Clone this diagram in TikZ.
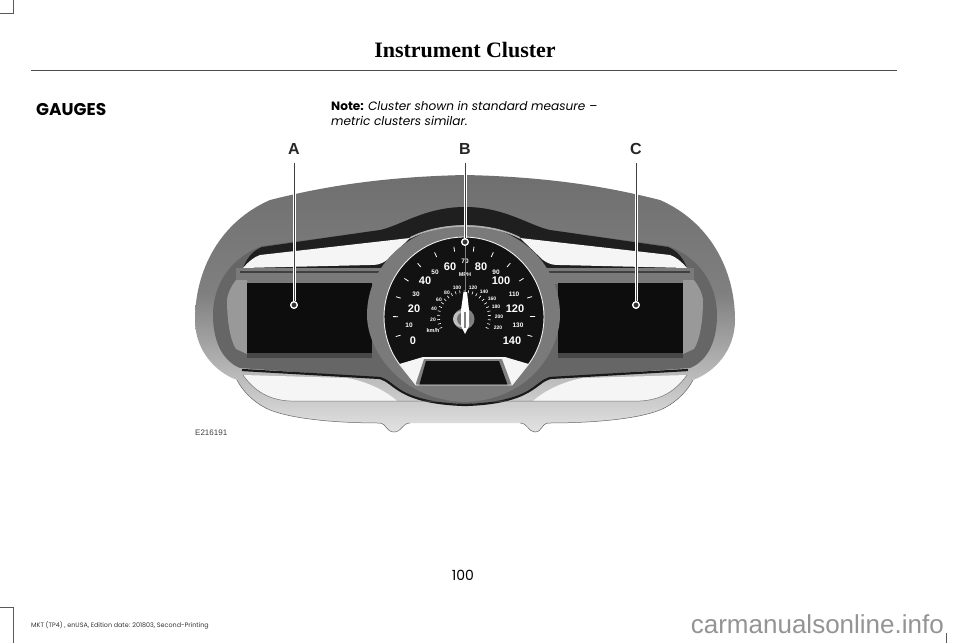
\documentclass[tikz,border=0pt]{standalone}
\usepackage{fontspec}
\setmainfont{Poppins}
\newfontfamily\headfont{Liberation Serif}
\newfontfamily\liberation{Liberation Sans}
\usetikzlibrary{calc}
\pgfdeclareverticalshading{bezelshade}{100bp}{
 color(0bp)=(black!6); color(12bp)=(white); color(24bp)=(black!10); color(38bp)=(black!30);
 color(52bp)=(black!50); color(88bp)=(black!60); color(100bp)=(black!42)}
\tikzset{
 x=1pt,y=-1pt,
 gnum/.style={white,font=\liberation\bfseries\fontsize{#1}{#1}\selectfont,inner sep=0pt},
 calloutlabel/.style={font=\liberation\bfseries\fontsize{16}{16}\selectfont,inner sep=0pt,text=black!85},
 bodytext/.style={anchor=base west,inner sep=0pt,font=\fontsize{12.1}{14}\selectfont},
 halo/.style={white,line width=3pt},
 core/.style={black!75,line width=1pt},
 dot/.style={circle,draw=white,line width=1.2pt,fill=black!80,minimum size=6.5pt,inner sep=0pt},
 dialtick/.style={white,line width=0.8pt},
 crop/.style={black!65,line width=0.5pt}
}
\begin{document}
\begin{tikzpicture}
\useasboundingbox (0,0) rectangle (960,643);
\fill[white] (0,0) rectangle (960,643);
% page furniture
\draw[crop] (0,13) -- (13,13) -- (13,0);
\draw[crop] (0,607) -- (13,607) -- (13,643);
\draw[crop] (946,633) -- (946,643);
\draw[black!70,line width=0.9pt] (31,70) -- (897,70);
\node[anchor=base,inner sep=0pt,font=\headfont\bfseries\fontsize{22}{24}\selectfont] (title) at (465,57) {Instrument Cluster};
\node[anchor=base west,inner sep=0pt,font=\bfseries\fontsize{17}{19}\selectfont] (gaugestxt) at (36,115) {GAUGES};
\node[bodytext] (note1) at (331,110.5) {\textbf{Note:} \textit{Cluster shown in standard measure –}};
\node[bodytext] (note2) at (331,125.5) {\textit{metric clusters similar.}};
\node[anchor=base,inner sep=0pt,font=\fontsize{14}{16}\selectfont] (pg) at (463,580) {100};
\node[anchor=base west,inner sep=0pt,text=black!80,font=\fontsize{6.4}{8}\selectfont] (foot) at (31,627.5) {MKT (TP4) , enUSA, Edition date: 201803, Second-Printing};
\node[anchor=base west,inner sep=0pt,text=black!75,font=\liberation\fontsize{8}{9}\selectfont] (code) at (195,435) {E216191};
% outer bezel
\path[shading=bezelshade,shading angle=0]
 (465,175) .. controls (560,177) and (620,190) .. (660,200)
 .. controls (710,222) and (735,270) .. (735,320)
 .. controls (735,350) and (715,372) .. (693,380)
 .. controls (685,395) and (672,405) .. (660,410)
 .. controls (640,418) and (600,423) .. (548,423)
 .. controls (542,423) and (542,432) .. (535,432)
 .. controls (528,432) and (528,423) .. (520,423)
 -- (410,423)
 .. controls (402,423) and (402,432) .. (394,432)
 .. controls (386,432) and (386,423) .. (380,423)
 .. controls (330,423) and (290,418) .. (270,410)
 .. controls (258,405) and (245,395) .. (237,380)
 .. controls (215,372) and (195,350) .. (195,320)
 .. controls (195,270) and (220,222) .. (270,200)
 .. controls (310,190) and (370,177) .. (465,175) -- cycle;
\draw[black!60,line width=0.5pt]
 (693,380) .. controls (685,395) and (672,405) .. (660,410)
 .. controls (640,418) and (600,423) .. (548,423)
 .. controls (542,423) and (542,432) .. (535,432)
 .. controls (528,432) and (528,423) .. (520,423)
 (410,423)
 .. controls (402,423) and (402,432) .. (394,432)
 .. controls (386,432) and (386,423) .. (380,423)
 .. controls (330,423) and (290,418) .. (270,410)
 .. controls (258,405) and (245,395) .. (237,380);
% inner dark frame
\fill[black!60] (213,315)
 .. controls (213,285) and (230,258) .. (262,246)
 -- (380,230) .. controls (400,226) and (425,207) .. (465,207)
 .. controls (505,207) and (530,226) .. (550,230)
 -- (668,246) .. controls (700,258) and (717,285) .. (717,315)
 .. controls (717,345) and (705,362) .. (690,368)
 -- (550,378) .. controls (530,385) and (525,403) .. (465,404)
 .. controls (405,403) and (400,385) .. (380,378)
 -- (240,368) .. controls (225,362) and (213,345) .. (213,315) -- cycle;
% dark upper band
\fill[black!88] (243,268) .. controls (248,255) and (255,250) .. (262,247)
 -- (380,230) .. controls (400,226) and (425,207) .. (465,207)
 .. controls (505,207) and (530,226) .. (550,230)
 -- (668,247) .. controls (675,250) and (682,255) .. (687,268) -- (600,268) -- (330,268) -- cycle;
% upper white windows
\fill[black!4] (243,268) .. controls (248,262) and (254,257) .. (260,255) -- (410,238) -- (387,260)
 .. controls (380,265) and (376,265) .. (370,265) -- cycle;
\fill[black!4] (687,268) .. controls (682,262) and (676,257) .. (670,255) -- (520,238) -- (543,260)
 .. controls (550,265) and (554,265) .. (560,265) -- cycle;
% dark lower line and white windows
\draw[black!90,line width=2.2pt] (242,370) -- (380,378) .. controls (395,382) and (398,403) .. (465,405)
 .. controls (532,403) and (535,382) .. (550,378) -- (688,370);
\fill[black!4] (243,375) -- (347,378) .. controls (365,381) and (385,390) .. (397,401) -- (290,401)
 .. controls (270,400) and (255,392) .. (243,375) -- cycle;
\fill[black!4] (687,375) -- (583,378) .. controls (565,381) and (545,390) .. (533,401) -- (640,401)
 .. controls (660,400) and (675,392) .. (687,375) -- cycle;
\draw[black!55,line width=0.5pt] (243,375) .. controls (255,392) and (270,400) .. (290,401) -- (640,401)
 .. controls (660,400) and (675,392) .. (687,375);
% horizontal bar
\fill[black!52] (236,268) -- (694,268) -- (694,284) -- (236,284) -- cycle;
\fill[black!75] (240,270.5) -- (690,270.5) -- (690,273) -- (240,273) -- cycle;
% side panels
\fill[black!40] (227,300) .. controls (228,292) and (232,285) .. (236,280) -- (247,280) -- (247,354) -- (236,349) .. controls (230,340) and (227,320) .. (227,300) -- cycle;
\fill[black!40] (703,300) .. controls (702,292) and (698,285) .. (694,280) -- (683,280) -- (683,354) -- (694,349) .. controls (700,340) and (703,320) .. (703,300) -- cycle;
% display screens
\fill[black!95] (247,283) rectangle (372,353);
\fill[black!95] (558,283) rectangle (683,353);
\fill[black!72] (247,353) rectangle (372,358);
\fill[black!72] (558,353) rectangle (683,358);
% central ring
\fill[black!52] (465,225) .. controls (520,225) and (560,265) .. (560,315)
 .. controls (560,350) and (530,400) .. (465,402)
 .. controls (400,400) and (367,350) .. (367,315)
 .. controls (367,265) and (410,225) .. (465,225) -- cycle;
\draw[black!30,line width=1.6pt] (410,238) .. controls (440,222) and (490,222) .. (520,238);
% dial
\begin{scope}
 \clip plot[domain=216:-36,samples=70] ({464+80*cos(\x)},{317-80*sin(\x)}) -- (512,385) -- (416,385) -- cycle;
 \fill[black!93] (380,230) rectangle (550,390);
 \fill[black!4] (396,365) -- (423,357) -- (505,357) -- (532,365) -- (532,390) -- (396,390) -- cycle;
 \fill[black!50] (415,386) -- (424,359) -- (502,359) -- (512,386) -- cycle;
 \fill[black!93] (419,386) -- (426,361) -- (499,361) -- (508,386) -- cycle;
\end{scope}
\draw[black!6,line width=0.9pt] plot[domain=216:-36,samples=70] ({464+80*cos(\x)},{317-80*sin(\x)}) -- (512,385) -- (416,385) -- cycle;
% dial ticks
\foreach \k in {0,...,13} {
 \draw[dialtick] ({464+66*cos(196-16.3*\k)},{317-66*sin(196-16.3*\k)}) -- ({464+71*cos(196-16.3*\k)},{317-71*sin(196-16.3*\k)});
}
\foreach \k in {0,...,24} {
 \draw[white,line width=0.6pt] ({464+24*cos(205-9.6*\k)},{317-24*sin(205-9.6*\k)}) -- ({464+27*cos(205-9.6*\k)},{317-27*sin(205-9.6*\k)});
}
% dial numbers
\foreach \t/\x/\y in {0/413/341,20/414/309,40/425/281,60/450/267,80/481/267,100/501/281,120/515/309,140/512/341}
 \node[gnum=11] at (\x,\y) {\t};
\foreach \t/\x/\y in {10/409/325,30/416/294,50/435/272,70/465/261,90/496/272,110/514/294,130/518/325}
 \node[gnum=6.5] at (\x,\y) {\t};
\foreach \t/\x/\y in {20/433/320,40/434/309,60/439/300,80/447/293,100/457/288,120/473/288,140/484/292,160/492/299,180/496/307,200/499/317,220/498/328}
 \node[gnum=5] at (\x,\y) {\t};
\node[gnum=5.5] (mph) at (465,275) {MPH};
\node[gnum=5.5] (kmh) at (433,331) {km/h};
% callout labels
\node[calloutlabel] (labA) at (294,149) {A};
\node[calloutlabel] (labB) at (465,149) {B};
\node[calloutlabel] (labC) at (636,149) {C};
\node[dot] (dotA) at (294,305) {};
\node[dot] (dotB) at (465,242) {};
\node[dot] (dotC) at (636,305) {};
% callout leaders
\draw[halo] ($(labA.south)+(0,8)$) -- (dotA);
\draw[core] ($(labA.south)+(0,8)$) -- (dotA);
\draw[halo] ($(labB.south)+(0,8)$) -- (dotB);
\draw[core] ($(labB.south)+(0,8)$) -- (dotB);
\draw[halo] ($(labC.south)+(0,8)$) -- (dotC);
\draw[core] ($(labC.south)+(0,8)$) -- (dotC);
\node[dot] at (dotA) {};
\node[dot] at (dotB) {};
\node[dot] at (dotC) {};
\draw[black!50,line width=0.6pt] (dotB) -- (465,292);
% needle and hub
\fill[black!50] (464,319) circle[radius=10.5];
\fill[black!25] (461,319) circle[radius=8];
\fill[black!55] (464,319) circle[radius=7];
\fill[white] (463.5,292) -- (467,292) -- (469,310) -- (469,326) -- (465,334) -- (461,326) -- (461,310) -- cycle;
\fill[black!50] (464,312) rectangle (466,328);
% watermark
\node[anchor=base east,inner sep=0pt,text=black!42,font=\liberation\fontsize{26}{30}\selectfont] (wm) at (944,633) {carmanualsonline.info};
\end{tikzpicture}
\end{document}
